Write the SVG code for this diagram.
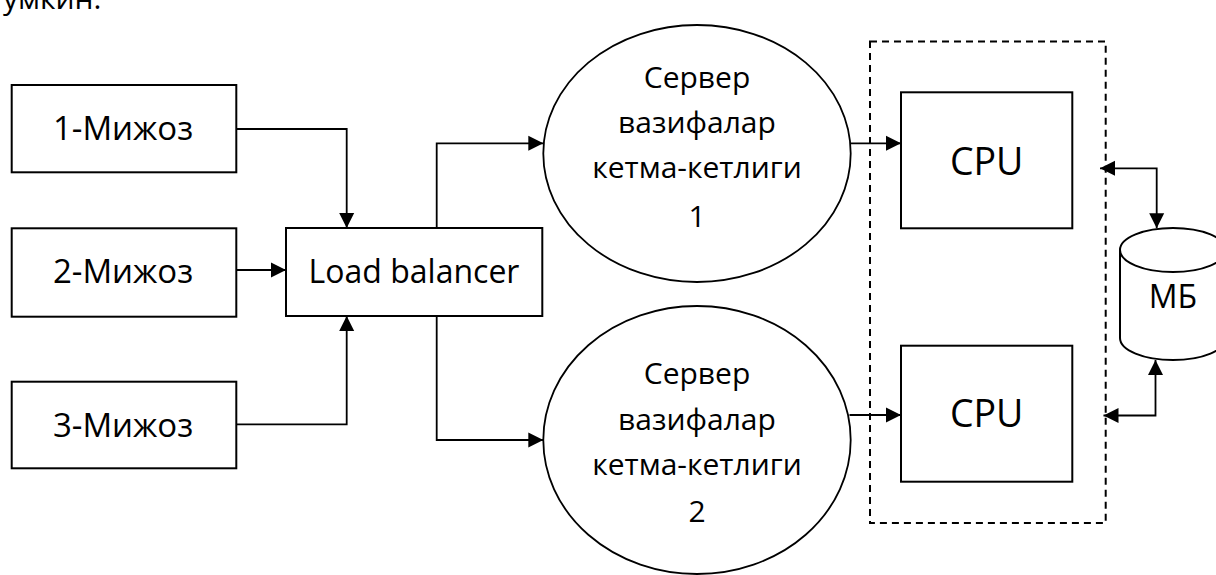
<svg xmlns="http://www.w3.org/2000/svg" width="1216" height="575" viewBox="0 0 1216 575">
<style>
.box{fill:#fff;stroke:#000;stroke-width:2}
.ell{fill:#fff;stroke:#000;stroke-width:1.8}
.t{font-family:"Open Sans","Noto Sans","DejaVu Sans",sans-serif;fill:#000;text-anchor:middle}
.bt{font-size:33px}
.lbt{font-size:32px}
.et{font-size:30px}
.ct{font-size:37.5px}
.ln{fill:none;stroke:#000;stroke-width:1.8}
.dash{fill:none;stroke:#000;stroke-width:2;stroke-dasharray:7 5}
</style>
<defs>
<marker id="ah" markerUnits="userSpaceOnUse" markerWidth="16" markerHeight="16" refX="15" refY="7.5" orient="auto-start-reverse" viewBox="0 0 16 15">
<path d="M0,0 L15,7.5 L0,15 Z" fill="#000"/>
</marker>
</defs>
<text class="t" x="3" y="9" style="font-size:30px;text-anchor:start">умкин.</text>
<g id="cluster">
<rect class="dash" x="870" y="41.5" width="235.7" height="481.5"/>
</g>
<g id="client1">
<rect class="box" x="11.7" y="85" width="224.6" height="87.3"/>
<text class="t bt" x="123" y="139.5">1-Мижоз</text>
</g>
<g id="client2">
<rect class="box" x="11.7" y="228.3" width="224.6" height="88.4"/>
<text class="t bt" x="123" y="283">2-Мижоз</text>
</g>
<g id="client3">
<rect class="box" x="11.7" y="381.7" width="224.6" height="86.6"/>
<text class="t bt" x="123" y="436.5">3-Мижоз</text>
</g>
<g id="lb">
<rect class="box" x="286" y="228" width="256.3" height="88"/>
<text class="t lbt" x="414" y="282.7">Load balancer</text>
</g>
<g id="server1">
<ellipse class="ell" cx="697" cy="153.5" rx="153.7" ry="128.5"/>
<text class="t et" x="697" y="87.7">Сервер</text>
<text class="t et" x="697" y="133.3">вазифалар</text>
<text class="t et" x="697" y="178.3">кетма-кетлиги</text>
<text class="t et" x="697" y="226.7">1</text>
</g>
<g id="server2">
<ellipse class="ell" cx="697" cy="440" rx="153.7" ry="134"/>
<text class="t et" x="697" y="384">Сервер</text>
<text class="t et" x="697" y="430">вазифалар</text>
<text class="t et" x="697" y="475">кетма-кетлиги</text>
<text class="t et" x="697" y="522">2</text>
</g>
<g id="cpu1">
<rect class="box" x="901" y="92.3" width="171.3" height="136"/>
<text class="t ct" x="986.7" y="175">CPU</text>
</g>
<g id="cpu2">
<rect class="box" x="901" y="345.7" width="171.3" height="136"/>
<text class="t ct" x="986.7" y="426.7">CPU</text>
</g>
<g id="db">
<path class="box" d="M1120,250 A53,22 0 0 1 1226,250 V338 A53,22 0 0 1 1120,338 Z"/>
<path class="ln" style="stroke-width:2" d="M1120,250 A53,22 0 0 0 1226,250"/>
<text class="t" style="font-size:32px" x="1173" y="308.3">МБ</text>
</g>
<g id="connectors">
<path class="ln" d="M236.3,129 H346.7 V228" marker-end="url(#ah)"/>
<path class="ln" d="M236.3,270 H286" marker-end="url(#ah)"/>
<path class="ln" d="M236.3,424.3 H346.7 V316" marker-end="url(#ah)"/>
<path class="ln" d="M436.7,228 V143.3 H543.3" marker-end="url(#ah)"/>
<path class="ln" d="M436.7,316 V440 H543.3" marker-end="url(#ah)"/>
<path class="ln" d="M850.7,143.3 H901" marker-end="url(#ah)"/>
<path class="ln" d="M849.5,415 H901" marker-end="url(#ah)"/>
<path class="ln" d="M1100,168.3 H1156.7 V228.3" marker-start="url(#ah)" marker-end="url(#ah)"/>
<path class="ln" d="M1103.5,415.5 H1155.5 V360" marker-start="url(#ah)" marker-end="url(#ah)"/>
</g>
</svg>
